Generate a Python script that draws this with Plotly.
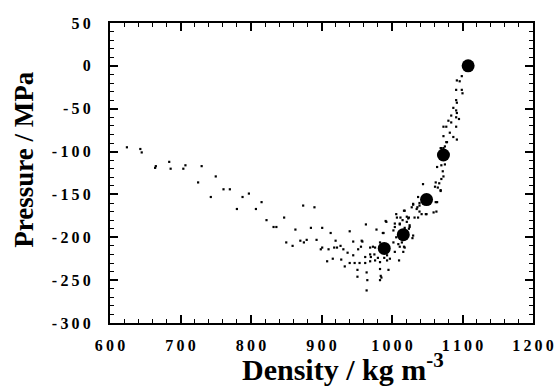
import plotly.graph_objects as go

# Simulation points (small dots): density (kg m^-3), pressure (MPa)
sim_density = [
    624, 643, 645, 665, 664, 684, 686, 707, 704, 730, 750, 725, 761, 770, 743,
    788, 797, 815, 780, 807, 822,
    874, 890, 847, 832, 836, 863, 885, 901, 913, 940, 963, 992, 978, 987,
    850, 859, 870, 875, 879, 893, 920, 901, 899, 910, 918, 922, 927, 931, 937,
    945, 952, 958, 956, 969, 976, 975, 969, 970, 962, 916, 908, 928, 945, 940,
    947, 954, 962, 969, 976, 980, 983, 989, 993, 933, 951, 951, 964, 983, 985,
    995, 964, 965, 983, 984,
    1006, 1007, 1018, 1021, 1028, 1030, 1035, 1039, 1049, 1059, 1063, 1062,
    1069, 1032, 1023, 1011, 1004, 1025, 1030, 1006, 1002, 1009, 1017, 1016,
    1004, 1010, 997, 993,
    1078, 1075, 1070, 1064, 1070, 1075, 1072, 1073, 1070, 1044, 1062, 1067,
    1061, 1065, 1069, 1064, 1048, 1042, 1039, 1036, 1039, 1030, 1037, 1017,
    1012, 1015, 1024, 1037, 991, 1004, 1011, 1021, 1025, 988, 1002, 1018,
    1024, 1029, 1014, 1018, 1011, 983, 973, 957,
    1099, 1092, 1096, 1091, 1099, 1100, 1091, 1092, 1087, 1091, 1092, 1084,
    1091, 1095, 1080, 1084, 1073, 1077, 1091, 1082, 1073, 1087, 1092, 1077,
    1069, 1073,
]
sim_pressure = [
    -95, -97, -101, -117, -119, -112, -120, -116, -120, -117, -129, -136, -144, -144, -153,
    -153, -149, -159, -167, -167, -180,
    -163, -165, -177, -188, -188, -191, -189, -189, -195, -193, -185, -182, -191, -195,
    -206, -210, -204, -206, -203, -203, -204, -212, -214, -214, -212, -212, -210, -214, -218,
    -205, -214, -205, -211, -212, -212, -220, -220, -223, -223, -225, -228, -226, -221, -230,
    -230, -230, -230, -228, -227, -224, -229, -224, -227, -234, -238, -246, -241, -237, -247,
    -238, -262, -250, -250, -245,
    -173, -177, -169, -176, -165, -162, -167, -163, -173, -171, -170, -159,
    -145, -177, -178, -184, -188, -188, -198, -200, -206, -208, -211, -217,
    -217, -227, -225, -221,
    -89, -94, -96, -118, -116, -115, -123, -129, -132, -138, -136, -137,
    -141, -142, -146, -159, -173, -173, -170, -165, -160, -161, -153, -169,
    -177, -180, -177, -177, -181, -184, -185, -182, -186, -195, -192, -189,
    -190, -201, -206, -212, -211, -206, -211, -204,
    -12, -17, -18, -28, -28, -32, -40, -43, -49, -52, -55, -58,
    -60, -62, -64, -66, -71, -71, -71, -78, -82, -83, -86, -89,
    -96, -96,
]

# Experimental points (large dots)
exp_density = [1108, 1073, 1049, 1016, 989]
exp_pressure = [0, -104, -156, -197, -213]

x_ticks = [600, 700, 800, 900, 1000, 1100, 1200]
y_ticks = [50, 0, -50, -100, -150, -200, -250, -300]

x_title = "Density / kg m<sup>-3</sup>"
y_title = "Pressure / MPa"


def spaced(v):
    # letter-spaced tick label, hyphen as minus sign
    return "\u2009".join(list(str(v)))


fig = go.Figure()
fig.add_trace(go.Scatter(
    x=sim_density, y=sim_pressure, mode="markers",
    marker=dict(size=2.2, color="black", symbol="square"),
    showlegend=False, hoverinfo="skip",
))
fig.add_trace(go.Scatter(
    x=exp_density, y=exp_pressure, mode="markers",
    marker=dict(size=13, color="black"),
    showlegend=False,
))

tickfont = dict(family="Liberation Serif", size=16, color="black", weight="bold")

fig.update_xaxes(
    range=[600, 1200], tickvals=x_ticks, ticktext=[spaced(v) for v in x_ticks],
    ticks="inside", ticklen=8, tickwidth=1.5, tickcolor="black",
    minor=dict(dtick=20, ticks="inside", ticklen=4, tickwidth=1.2, tickcolor="black"),
    showline=True, linewidth=2, linecolor="black", mirror="allticks",
    showgrid=False, zeroline=False, automargin=False,
    tickfont=tickfont, ticklabelstandoff=7,
)
fig.update_yaxes(
    range=[-300, 50], tickvals=y_ticks, ticktext=[spaced(v) for v in y_ticks],
    ticks="inside", ticklen=8, tickwidth=1.5, tickcolor="black",
    minor=dict(dtick=10, ticks="inside", ticklen=4, tickwidth=1.2, tickcolor="black"),
    showline=True, linewidth=2, linecolor="black", mirror="allticks",
    showgrid=False, zeroline=False, automargin=False,
    tickfont=tickfont, ticklabelstandoff=14,
)

fig.add_annotation(
    text=x_title, xref="paper", yref="paper", x=0.551, y=-0.148,
    xanchor="center", yanchor="middle", showarrow=False,
    font=dict(family="Liberation Serif", size=30, color="black", weight="bold"),
)
fig.add_annotation(
    text=y_title, xref="paper", yref="paper", x=-0.205, y=0.545,
    xanchor="center", yanchor="middle", showarrow=False, textangle=-90,
    font=dict(family="Liberation Serif", size=27, color="black", weight="bold"),
)

fig.update_layout(
    width=557, height=390,
    margin=dict(l=110, r=24, t=23, b=67),
    plot_bgcolor="white", paper_bgcolor="white",
)

fig.write_html("out.html")
